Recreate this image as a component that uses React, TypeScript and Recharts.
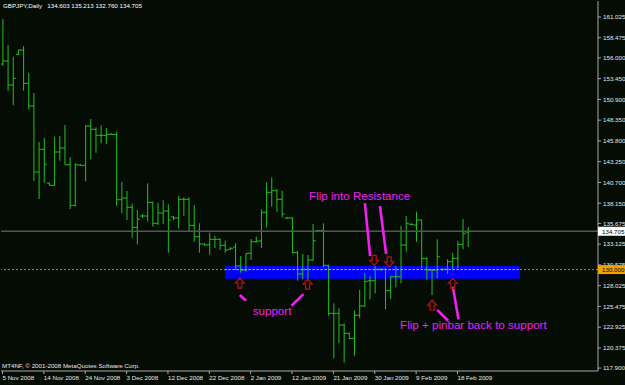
import React from 'react';
import {
  Bar,
  ComposedChart,
  ReferenceArea,
  ReferenceDot,
  ReferenceLine,
  XAxis,
  YAxis,
} from 'recharts';

// GBPJPY daily bars (index 0 = 5 Nov 2008)
const opens = [
  155.25, 155.62, 152.67, 156.44, 156.97, 152.88, 150.09, 141.98, 144.77, 140.63,
  140.35, 144.44, 144.93, 142.88, 137.89, 142.84, 142.81, 147.63, 147.23, 146.49,
  146.49, 146.61, 146.61, 138.58, 138.79, 137.65, 135.19, 136.58, 136.58, 138.26,
  135.68, 136.95, 137.19, 136.46, 136.33, 138.63, 138.63, 135.43, 134.04, 133.14,
  133.05, 133.71, 133.71, 132.98, 132.49, 132.77, 130.44, 129.94, 131.99, 133.42,
  133.51, 137.03, 139.49, 139.69, 138.63, 136.33, 136.33, 132.07, 129.45, 130.03,
  131.17, 134.77, 134.77, 130.52, 124.62, 124.62, 123.19, 122.17, 121.55, 124.38,
  125.52, 128.63, 128.63, 130.03, 130.03, 127.4, 129.12, 129.12, 133.02, 135.56,
  135.47, 136.09, 131.38, 129.94, 129.94, 130.03, 130.03, 130.96, 131.38, 133.1,
  134.603,
];
const highs = [
  160.78, 157.59, 156.15, 156.97, 157.46, 154.18, 151.69, 145.67, 146.16, 140.67,
  146.32, 146.41, 147.76, 143.79, 143.05, 142.97, 147.72, 148.49, 147.47, 147.72,
  147.39, 146.74, 146.93, 140.75, 139.65, 138.09, 137.31, 136.79, 140.59, 138.34,
  138.21, 138.51, 138.02, 136.58, 139.03, 138.87, 138.87, 137.93, 135.68, 133.2,
  134.53, 134.12, 133.87, 133.54, 132.73, 133.22, 131.66, 132.0, 133.75, 134.04,
  137.4, 140.72, 141.33, 139.89, 139.69, 136.46, 136.4, 132.31, 131.91, 131.79,
  135.6, 134.86, 135.68, 130.6, 125.85, 125.24, 123.39, 122.24, 124.94, 127.49,
  129.54, 129.21, 130.44, 130.15, 130.15, 129.21, 130.44, 135.35, 136.58, 135.68,
  137.1, 136.15, 131.5, 130.03, 133.71, 130.15, 131.26, 132.07, 133.54, 136.21,
  135.213,
];
const lows = [
  155.01, 151.93, 150.18, 156.36, 151.97, 149.69, 140.88, 138.67, 140.67, 140.3,
  140.3, 143.37, 142.88, 137.44, 137.72, 142.76, 140.84, 143.54, 144.35, 145.51,
  145.39, 146.53, 137.84, 136.91, 136.09, 133.91, 133.1, 136.37, 135.88, 135.26,
  135.47, 135.59, 132.07, 136.09, 135.02, 136.61, 134.65, 133.42, 132.07, 132.93,
  131.82, 132.65, 132.4, 132.07, 132.4, 129.94, 129.61, 129.74, 131.17, 133.3,
  132.65, 135.19, 137.72, 137.11, 136.37, 136.21, 131.99, 128.63, 128.8, 128.71,
  131.09, 134.61, 130.28, 124.33, 119.1, 120.94, 118.56, 121.47, 119.42, 124.01,
  125.44, 126.34, 127.08, 129.86, 125.12, 126.42, 127.82, 128.31, 132.19, 135.44,
  133.42, 130.15, 128.71, 126.87, 128.92, 129.86, 129.45, 130.03, 130.15, 132.49,
  132.76,
];
const closes = [
  155.62, 152.67, 153.49, 156.97, 152.88, 150.09, 141.98, 144.77, 142.93, 140.35,
  144.44, 144.93, 142.88, 137.89, 142.88, 142.76, 147.63, 147.23, 146.49, 146.49,
  146.61, 146.59, 138.58, 138.79, 137.65, 135.19, 136.17, 136.58, 138.26, 135.68,
  136.95, 137.19, 136.09, 136.33, 138.63, 138.63, 135.43, 134.04, 133.14, 133.02,
  133.71, 133.71, 132.98, 132.4, 132.61, 130.44, 129.94, 131.99, 133.42, 133.51,
  137.03, 139.49, 139.69, 138.63, 136.82, 136.33, 132.07, 129.45, 130.03, 131.17,
  133.54, 134.77, 130.52, 124.62, 124.62, 123.19, 122.17, 121.55, 124.38, 125.52,
  128.51, 128.63, 130.03, 130.03, 127.4, 129.12, 129.12, 133.02, 135.68, 135.56,
  136.09, 131.38, 129.94, 129.94, 131.58, 130.03, 130.96, 131.38, 133.1, 134.45,
  134.705,
];

const dateLabels = [
  '5 Nov 2008', '14 Nov 2008', '24 Nov 2008', '3 Dec 2008', '12 Dec 2008', '22 Dec 2008',
  '2 Jan 2009', '12 Jan 2009', '21 Jan 2009', '30 Jan 2009', '9 Feb 2009', '18 Feb 2009',
];
const dateTicks = dateLabels.map((_, i) => i * 8);

const priceTicks = [
  161.025, 158.475, 156.0, 153.45, 150.9, 148.35, 145.8, 143.25, 140.7, 138.15,
  135.675, 133.125, 130.575, 128.025, 125.475, 122.925, 120.375, 117.9,
];
const lastPrice = 134.705;
const levelPrice = 130.0;

// annotations (bar index / price)
const supportZone = { x1: 43.04, x2: 100.1, y1: 128.87, y2: 130.43 };
const upArrows = [
  { x: 45.9, y: 128.35 },
  { x: 59.0, y: 128.22 },
  { x: 83.1, y: 125.64 },
  { x: 87.1, y: 128.31 },
];
const downArrows = [
  { x: 71.9, y: 131.13 },
  { x: 74.8, y: 130.93 },
];
const pointerLines = [
  [{ x: 45.9, y: 126.87 }, { x: 47.1, y: 126.17 }],
  [{ x: 55.9, y: 125.56 }, { x: 58.2, y: 126.99 }],
  [{ x: 70.1, y: 138.17 }, { x: 71.1, y: 131.66 }],
  [{ x: 73.0, y: 137.81 }, { x: 74.2, y: 131.91 }],
  [{ x: 84.1, y: 125.03 }, { x: 86.2, y: 123.71 }],
  [{ x: 87.1, y: 127.89 }, { x: 88.2, y: 123.89 }],
];
const notes = [
  { x: 59.3, y: 138.54, text: 'Flip into Resistance' },
  { x: 48.4, y: 124.48, text: 'support' },
  { x: 76.9, y: 122.64, text: 'Flip + pinbar back to support' },
];

const data = opens.map((o, i) => ({
  i,
  o,
  h: highs[i],
  l: lows[i],
  c: closes[i],
}));

const BG = '#040c04';
const BAR = '#22c022';
const AXIS = '#a8a8a8';
const MAGENTA = '#f020f0';
const FONT = '"Liberation Sans", Arial, sans-serif';
const X_DOMAIN = [-0.29, 115.18];

const OhlcBar = (props: any) => {
  const { x, y, width, height, payload } = props;
  if (!payload) return null;
  const cx = x + width / 2;
  const top = Math.min(y, y + height);
  const bottom = Math.max(y, y + height);
  const span = payload.h - payload.l || 1;
  const yOf = (v: number) => top + ((payload.h - v) / span) * (bottom - top);
  return (
    <g stroke={BAR} strokeWidth={1}>
      <line x1={cx} x2={cx} y1={top} y2={bottom} />
      <line x1={cx - 2.6} x2={cx} y1={yOf(payload.o)} y2={yOf(payload.o)} />
      <line x1={cx} x2={cx + 2.6} y1={yOf(payload.c)} y2={yOf(payload.c)} />
    </g>
  );
};

const PriceTick = (props: any) => {
  const { x, y, payload } = props;
  const v = payload.value;
  if (v === lastPrice || v === levelPrice) {
    return (
      <g>
        <rect x={x - 5} y={y - 4.5} width={27} height={9} fill={v === lastPrice ? '#ffffff' : '#f5a000'} />
        <text x={x - 1} y={y + 2.3} fontSize={6.2} fontFamily={FONT} fill="#000">
          {v.toFixed(3)}
        </text>
      </g>
    );
  }
  return (
    <text x={x} y={y + 2.3} fontSize={6.2} fontFamily={FONT} fill="#e8e8e8">
      {v.toFixed(3)}
    </text>
  );
};

const DateTick = (props: any) => {
  const { x, y, payload } = props;
  return (
    <text x={x} y={y + 5} fontSize={6.2} fontFamily={FONT} fill="#e8e8e8" textAnchor="start">
      {dateLabels[payload.value / 8]}
    </text>
  );
};

const Arrow = ({ cx, cy, up }: { cx: number; cy: number; up: boolean }) => {
  const s = up ? 1 : -1;
  const pts = [
    [0, -5],
    [4.5, 0],
    [2, 0],
    [2, 5],
    [-2, 5],
    [-2, 0],
    [-4.5, 0],
  ]
    .map(([px, py]) => `${cx + px},${cy + s * py}`)
    .join(' ');
  return <polygon points={pts} fill="none" stroke="#b01010" strokeWidth={1.3} />;
};

export default function App() {
  return (
    <div style={{ position: 'absolute', left: 0, top: 0, width: 625, height: 385, background: BG }}>
      <ComposedChart
        width={625}
        height={385}
        data={data}
        margin={{ top: 1, right: 0, bottom: 0, left: 1 }}
      >
        <XAxis
          dataKey="i"
          type="number"
          domain={X_DOMAIN}
          allowDataOverflow
          ticks={dateTicks}
          interval={0}
          height={14}
          tickSize={3}
          tickMargin={1}
          stroke={AXIS}
          tick={<DateTick />}
        />
        <XAxis xAxisId="top" orientation="top" type="number" domain={X_DOMAIN} height={0} tick={false} tickLine={false} stroke={AXIS} />
        <YAxis
          orientation="right"
          type="number"
          domain={[117.54, 162.99]}
          allowDataOverflow
          ticks={[...priceTicks, lastPrice, levelPrice]}
          interval={0}
          width={27}
          tickSize={3}
          tickMargin={2}
          stroke={AXIS}
          tick={<PriceTick />}
        />
        <YAxis yAxisId="left" orientation="left" type="number" domain={[117.54, 162.99]} width={0} tick={false} tickLine={false} stroke={AXIS} />

        <ReferenceArea
          x1={supportZone.x1}
          x2={supportZone.x2}
          y1={supportZone.y1}
          y2={supportZone.y2}
          fill="#0000ff"
          fillOpacity={1}
          stroke="none"
          ifOverflow="visible"
        />
        <ReferenceLine y={levelPrice} stroke="#c8781e" strokeDasharray="2 2" />
        <ReferenceLine
          segment={[
            { x: supportZone.x1, y: levelPrice },
            { x: supportZone.x2, y: levelPrice },
          ]}
          stroke="#a0a0ff"
          strokeDasharray="2 2"
        />
        <ReferenceLine y={lastPrice} stroke="#555555" strokeWidth={1.3} />

        <Bar
          dataKey={(d: any) => [d.l, d.h]}
          barSize={4}
          shape={<OhlcBar />}
          isAnimationActive={false}
        />

        {pointerLines.map((seg, k) => (
          <ReferenceLine key={`pl${k}`} segment={seg} stroke={MAGENTA} strokeWidth={2.6} ifOverflow="visible" />
        ))}
        {upArrows.map((a, k) => (
          <ReferenceDot
            key={`ua${k}`}
            x={a.x}
            y={a.y}
            r={5}
            ifOverflow="visible"
            shape={(p: any) => <Arrow cx={p.cx} cy={p.cy} up />}
          />
        ))}
        {downArrows.map((a, k) => (
          <ReferenceDot
            key={`da${k}`}
            x={a.x}
            y={a.y}
            r={5}
            ifOverflow="visible"
            shape={(p: any) => <Arrow cx={p.cx} cy={p.cy} up={false} />}
          />
        ))}
        {notes.map((n, k) => (
          <ReferenceDot
            key={`nt${k}`}
            x={n.x}
            y={n.y}
            r={1}
            ifOverflow="visible"
            shape={(p: any) => (
              <text x={p.cx} y={p.cy} fontSize={11.6} fontFamily={FONT} fill={MAGENTA} textAnchor="start">
                {n.text}
              </text>
            )}
          />
        ))}
      </ComposedChart>
      <div
        style={{
          position: 'absolute',
          left: 3,
          top: 2,
          fontFamily: FONT,
          fontSize: 6.2,
          lineHeight: '8px',
          color: '#ffffff',
          whiteSpace: 'pre',
        }}
      >
        {'GBPJPY,Daily   134.603 135.213 132.760 134.705'}
      </div>
      <div
        style={{
          position: 'absolute',
          left: 2,
          top: 362,
          fontFamily: FONT,
          fontSize: 6.2,
          lineHeight: '8px',
          color: '#e8e8e8',
          whiteSpace: 'pre',
        }}
      >
        {'MT4NF, © 2001-2008 MetaQuotes Software Corp.'}
      </div>
    </div>
  );
}
